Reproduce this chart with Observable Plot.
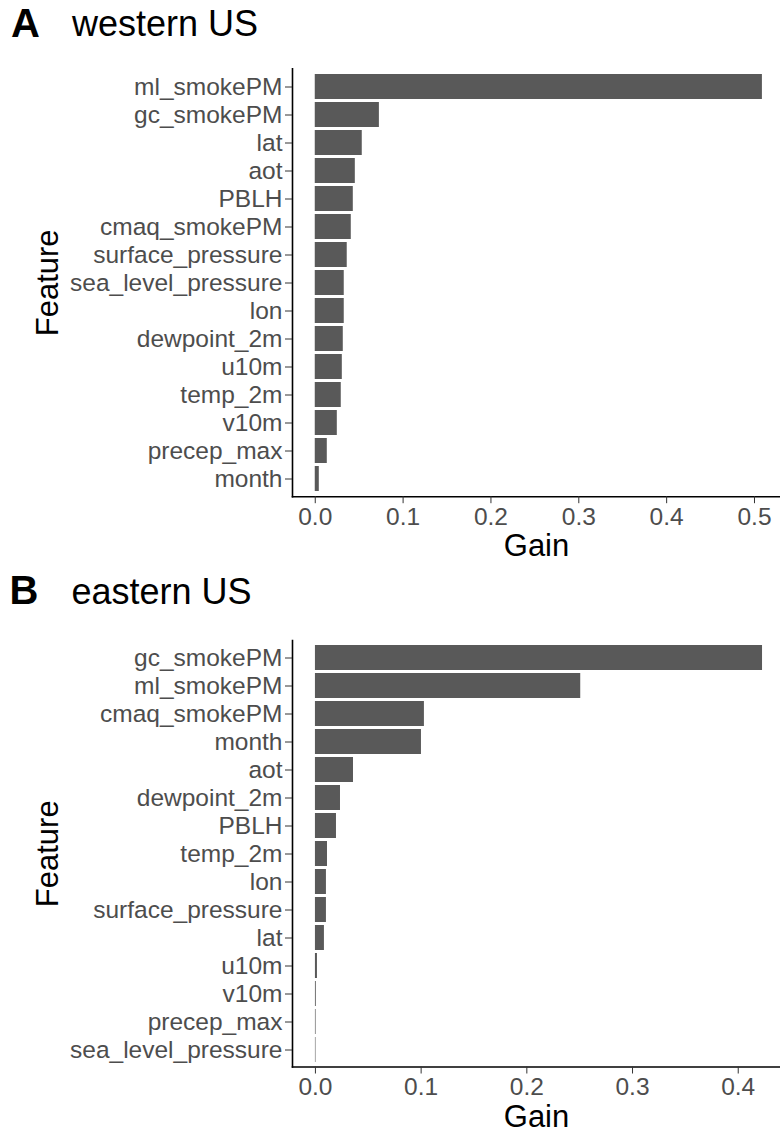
<!DOCTYPE html>
<html>
<head>
<meta charset="utf-8">
<script src="https://cdn.jsdelivr.net/npm/d3@7"></script>
<script src="https://cdn.jsdelivr.net/npm/@observablehq/plot@0.6"></script>
<style>
  html, body { margin: 0; padding: 0; background: white; }
  #root { position: relative; width: 780px; height: 1133px; overflow: hidden; background: white; font-family: 'Liberation Sans', Arial, Helvetica, sans-serif; }
  .tag { position: absolute; font-weight: bold; font-size: 40px; line-height: 40px; color: black; white-space: nowrap; }
  .ttl { position: absolute; font-size: 36px; line-height: 36px; color: black; white-space: nowrap; }
  .panel { position: absolute; left: 0; }
</style>
</head>
<body>
<div id="root">
  <div class="tag" style="left:11px; top:2.6px;">A</div>
  <div class="ttl" style="left:72px; top:5.5px;">western US</div>
  <div class="tag" style="left:9.5px; top:570.4px;">B</div>
  <div class="ttl" style="left:71.5px; top:573.8px;">eastern US</div>
  <div class="panel" id="west" style="top:50px;"></div>
  <div class="panel" id="east" style="top:620px;"></div>
</div>
<script>
const westFeatures = ["ml_smokePM", "gc_smokePM", "lat", "aot", "PBLH", "cmaq_smokePM", "surface_pressure", "sea_level_pressure", "lon", "dewpoint_2m", "u10m", "temp_2m", "v10m", "precep_max", "month"];
const westGain = [0.509, 0.073, 0.0535, 0.0456, 0.0433, 0.041, 0.0364, 0.033, 0.033, 0.0319, 0.0308, 0.0296, 0.0251, 0.0137, 0.0046];
const westTicks = [0, 0.1, 0.2, 0.3, 0.4, 0.5];

const eastFeatures = ["gc_smokePM", "ml_smokePM", "cmaq_smokePM", "month", "aot", "dewpoint_2m", "PBLH", "temp_2m", "lon", "surface_pressure", "lat", "u10m", "v10m", "precep_max", "sea_level_pressure"];
const eastGain = [0.423, 0.251, 0.1031, 0.1003, 0.036, 0.0237, 0.0199, 0.0114, 0.0104, 0.0104, 0.0085, 0.0019, 0.0008, 0.0006, 0.0005];
const eastTicks = [0, 0.1, 0.2, 0.3, 0.4];

const xLabel = "Gain";
const yLabel = "Feature";

function panel(features, gains, ticks, xDomain, height, marginTop, marginBottom) {
  const data = features.map((f, i) => ({feature: f, gain: gains[i]}));
  return Plot.plot({
    width: 780,
    height,
    marginLeft: 292,
    marginRight: 0,
    marginTop,
    marginBottom,
    style: {fontFamily: "'Liberation Sans', Arial, Helvetica, sans-serif", fontSize: "24.5px", background: "white", overflow: "visible"},
    x: {domain: xDomain, label: null},
    y: {domain: features, paddingInner: 0.1, paddingOuter: 0.15, label: null},
    marks: [
      Plot.barX(data, {x: "gain", y: "feature", fill: "#595959"}),
      Plot.frame({anchor: "left", stroke: "black", strokeWidth: 1.6}),
      Plot.frame({anchor: "bottom", stroke: "black", strokeWidth: 1.6}),
      Plot.axisX(ticks, {tickFormat: d3.format(".1f"), tickSize: 7, tickPadding: 4, stroke: "#333333", fill: "#4D4D4D", label: null}),
      Plot.axisY({tickSize: 7, tickPadding: 3, stroke: "#333333", fill: "#4D4D4D", label: null}),
      Plot.text([xLabel], {text: d => d, frameAnchor: "bottom", dy: 59.5, lineAnchor: "bottom", textAnchor: "middle", fontSize: 31, fill: "black"}),
      Plot.text([yLabel], {text: d => d, frameAnchor: "left", rotate: -90, dx: -257, lineAnchor: "top", textAnchor: "middle", fontSize: 31, fill: "black"})
    ]
  });
}

document.getElementById("west").append(
  panel(westFeatures, westGain, westTicks, [-0.0259, 0.5296], 520, 18.4, 73.8)
);
document.getElementById("east").append(
  panel(eastFeatures, eastGain, eastTicks, [-0.0217, 0.44], 513, 20, 66.5)
);
</script>
</body>
</html>
